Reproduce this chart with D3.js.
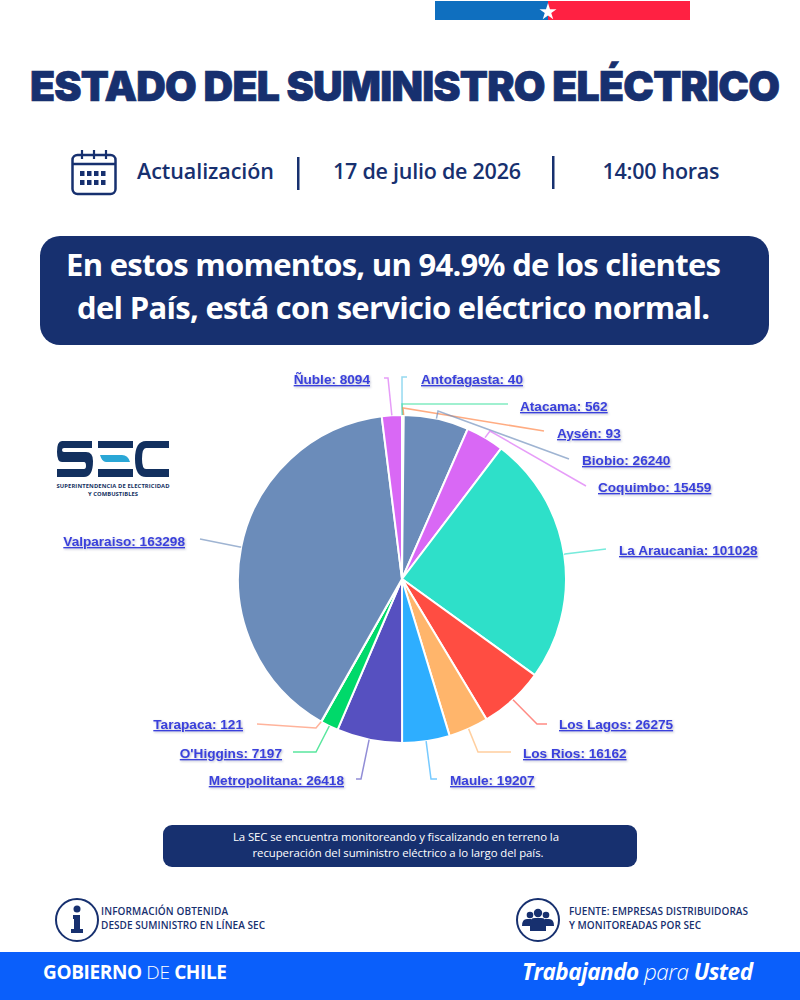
<!DOCTYPE html>
<html>
<head>
<meta charset="utf-8">
<script src="https://cdn.jsdelivr.net/npm/d3@7"></script>
<style>
html, body { margin: 0; padding: 0; background: #fff; }
svg { display: block; }
text { font-family: "Open Sans", sans-serif; }
.slice-label { font-family: "Liberation Sans", Arial, sans-serif; font-size: 13.6px; font-weight: bold;
  fill: #3a40dc; text-decoration: underline; filter: drop-shadow(1px 1px 1px rgba(60,70,120,.35)); }
</style>
</head>
<body>
<script>
// values as printed on the chart labels, clockwise from 12 o'clock
var regions = ["Antofagasta", "Atacama", "Aysén", "Biobio", "Coquimbo", "La Araucania", "Los Lagos",
  "Los Rios", "Maule", "Metropolitana", "O'Higgins", "Tarapaca", "Valparaiso", "Ñuble"];
var clients = [40, 562, 93, 26240, 15459, 101028, 26275, 16162, 19207, 26418, 7197, 121, 163298, 8094];
var sliceColors = ["#5cc4e8", "#3fe0a0", "#ff7f3f", "#6b8cba", "#d968f5", "#2ee0c9", "#ff4d42",
  "#ffb56b", "#2eaeff", "#5650c0", "#00d96a", "#ff8a65", "#6b8cba", "#d968f5"];

var navy = "#17306f";
var width = 800, height = 1000;
var cx = 402, cy = 579, radius = 164;

// label layout, same order as regions: [text x, text y, knee x, knee y, line end x, line end y]
var labelLayout = [
  [421, 384, 402, 377, 407, 377],
  [520, 411, 402, 404, 508, 404],
  [557, 438, 403, 408, 544, 431],
  [582, 465, 438, 411, 569, 459],
  [598, 492, 490, 431, 586, 486],
  [619, 555, 565, 554, 606, 549],
  [559, 729, 537, 724, 547, 724],
  [523, 758, 478, 752, 511, 752],
  [450, 785, 431, 779, 437, 779],
  [344, 785, 361, 779, 356, 779],
  [282, 758, 316, 752, 293, 752],
  [243, 729, 316, 728, 257, 724],
  [185, 546, 240, 547, 200, 539],
  [370, 384, 388, 378, 384, 378]
];

var svg = d3.select("body").append("svg")
  .attr("width", width)
  .attr("height", height);

svg.append("rect").attr("width", width).attr("height", height).attr("fill", "#fff");

// flag strip
svg.append("rect").attr("x", 435).attr("y", 1).attr("width", 113).attr("height", 19).attr("fill", "#0f6fbf");
svg.append("rect").attr("x", 548).attr("y", 1).attr("width", 142).attr("height", 19).attr("fill", "#ff2142");
svg.append("path")
  .attr("d", d3.symbol(d3.symbolStar, 90)())
  .attr("transform", "translate(548,12)")
  .attr("fill", "#fff");

// title
function label(x, y, str, size, weight, color, anchor, len) {
  var t = svg.append("text")
    .attr("x", x).attr("y", y)
    .attr("font-size", size)
    .attr("font-weight", weight)
    .attr("fill", color)
    .attr("text-anchor", anchor || "start")
    .text(str);
  if (len) t.attr("textLength", len);
  return t;
}

label(405, 101, "ESTADO DEL SUMINISTRO ELÉCTRICO", 41, 900, navy, "middle", 750)
  .attr("stroke", navy).attr("stroke-width", 0.7)
  .style("font-family", "Inter");

// calendar icon
var cal = svg.append("g").attr("transform", "translate(71,150)");
cal.append("rect").attr("x", 1.5).attr("y", 5).attr("width", 43).attr("height", 39).attr("rx", 5)
  .attr("fill", "none").attr("stroke", navy).attr("stroke-width", 2.5);
cal.append("line").attr("x1", 1.5).attr("x2", 44.5).attr("y1", 14).attr("y2", 14)
  .attr("stroke", navy).attr("stroke-width", 2.5);
[11, 23, 35].forEach(function (x) {
  cal.append("line").attr("x1", x).attr("x2", x).attr("y1", 0).attr("y2", 9)
    .attr("stroke", navy).attr("stroke-width", 2.2);
});
[9, 16, 23, 30].forEach(function (x) {
  [21, 30].forEach(function (y) {
    cal.append("rect").attr("x", x).attr("y", y).attr("width", 4.5).attr("height", 5).attr("fill", navy);
  });
});

label(137, 179, "Actualización", 21.5, 600, navy, "start", 137);
label(427, 179, "17 de julio de 2026", 21.5, 600, navy, "middle", 188);
label(661, 179, "14:00 horas", 21.5, 600, navy, "middle", 117);
svg.append("rect").attr("x", 297).attr("y", 157).attr("width", 2.5).attr("height", 33).attr("fill", navy);
svg.append("rect").attr("x", 552).attr("y", 156).attr("width", 2.5).attr("height", 33).attr("fill", navy);

// headline box
svg.append("rect").attr("x", 40).attr("y", 236).attr("width", 729).attr("height", 109).attr("rx", 20).attr("fill", navy);
label(393.5, 276, "En estos momentos, un 94.9% de los clientes", 31, 700, "#fff", "middle", 655);
label(393.5, 319, "del País, está con servicio eléctrico normal.", 31, 700, "#fff", "middle", 633);

// SEC logo
var logo = svg.append("g").attr("fill", "#12305f");
logo.append("path").attr("d", "M62 441H92V448H64Q62 448 62 450Q62 452 64 452H86Q93 452 93 461Q93 477 84 477H57V469H84Q86 469 86 466Q86 462 84 462H62Q57 462 57 452Q57 441 62 441Z");
logo.append("path").attr("d", "M98 441H133V448H98ZM98 469H133V477H98Z");
logo.append("path").attr("d", "M100 455H122Q128 455 130 462H106Q102 462 100 455Z").attr("fill", "#2aa7d6");
logo.append("path").attr("d", "M169 441V448H146Q142 448 142 459Q142 469 146 469H169V477H146Q135 477 135 459Q135 441 146 441Z");
label(113, 488, "SUPERINTENDENCIA DE ELECTRICIDAD", 5.8, 700, "#12305f", "middle", 113);
label(113, 496, "Y COMBUSTIBLES", 5.8, 700, "#12305f", "middle", 50);

// pie
var color = d3.scaleOrdinal().domain(regions).range(sliceColors);
var pie = d3.pie().value(function (d) { return clients[regions.indexOf(d)]; }).sort(null);
var arc = d3.arc().innerRadius(0).outerRadius(radius);
var rim = d3.arc().innerRadius(radius).outerRadius(radius);
var slices = pie(regions);

var chart = svg.append("g").attr("transform", "translate(" + cx + "," + cy + ")");
chart.selectAll("path.slice")
  .data(slices)
  .enter()
  .append("path")
  .attr("class", "slice")
  .attr("d", arc)
  .attr("fill", function (d) { return color(d.data); })
  .attr("stroke", "#fff")
  .attr("stroke-width", 2);

// leader lines run from the slice rim to the label
var leader = d3.line();
svg.selectAll("path.leader")
  .data(slices)
  .enter()
  .append("path")
  .attr("class", "leader")
  .attr("d", function (d, i) {
    var c = rim.centroid(d), l = labelLayout[i];
    return leader([[cx + c[0], cy + c[1]], [l[2], l[3]], [l[4], l[5]]]);
  })
  .attr("fill", "none")
  .attr("stroke", function (d) { return color(d.data); })
  .attr("stroke-opacity", 0.65)
  .attr("stroke-width", 1.5);

svg.selectAll("text.slice-label")
  .data(slices)
  .enter()
  .append("text")
  .attr("class", "slice-label")
  .attr("x", function (d, i) { return labelLayout[i][0]; })
  .attr("y", function (d, i) { return labelLayout[i][1]; })
  .attr("text-anchor", function (d, i) { return labelLayout[i][4] > labelLayout[i][0] ? "end" : "start"; })
  .text(function (d) { return d.data + ": " + d.value; });

// note box
svg.append("rect").attr("x", 163).attr("y", 825).attr("width", 474).attr("height", 42).attr("rx", 9).attr("fill", navy);
label(396, 841, "La SEC se encuentra monitoreando y fiscalizando en terreno la", 11.4, 400, "#fff", "middle", 326);
label(398, 857, "recuperación del suministro eléctrico a lo largo del país.", 11.4, 400, "#fff", "middle", 291);

// sources
function badge(x) {
  return svg.append("g").attr("transform", "translate(" + x + ",920)");
}
var info = badge(77);
info.append("circle").attr("r", 21).attr("fill", "#fff").attr("stroke", navy).attr("stroke-width", 2);
info.append("circle").attr("cy", -11).attr("r", 3.5).attr("fill", navy);
info.append("path").attr("d", "M-4 -5H3V9H6V13H-6V9H-3V-1H-4Z").attr("fill", navy);
label(101, 915, "INFORMACIÓN OBTENIDA", 10, 600, navy, "start", 127);
label(101, 929, "DESDE SUMINISTRO EN LÍNEA SEC", 10, 600, navy, "start", 164);

var people = badge(538);
people.append("circle").attr("r", 21).attr("fill", "#fff").attr("stroke", navy).attr("stroke-width", 2);
[[-8, -5, 3.3], [8, -5, 3.3], [0, -7, 4.2]].forEach(function (p) {
  people.append("circle").attr("cx", p[0]).attr("cy", p[1]).attr("r", p[2]).attr("fill", navy);
});
people.append("path").attr("d", "M-16 6Q-16 -1 -11 -1H-7V6ZM16 6Q16 -1 11 -1H7V6Z").attr("fill", navy);
people.append("path").attr("d", "M-8 11V3Q-8 -2 -3 -2H3Q8 -2 8 3V11Z").attr("fill", navy);
label(569, 915, "FUENTE: EMPRESAS DISTRIBUIDORAS", 10, 600, navy, "start", 179);
label(569, 929, "Y MONITOREADAS POR SEC", 10, 600, navy, "start", 132);

// footer band
svg.append("rect").attr("y", 952).attr("width", width).attr("height", 48).attr("fill", "#0a5ffb");
var gob = label(43, 979, "", 19, 700, "#fff", "start", 184);
gob.append("tspan").text("GOBIERNO ");
gob.append("tspan").attr("font-weight", 300).text("DE ");
gob.append("tspan").text("CHILE");
var tpu = label(522, 980, "", 22.5, 700, "#fff", "start", 231).attr("font-style", "italic");
tpu.append("tspan").text("Trabajando ");
tpu.append("tspan").attr("font-weight", 300).text("para ");
tpu.append("tspan").text("Usted");
</script>
</body>
</html>
